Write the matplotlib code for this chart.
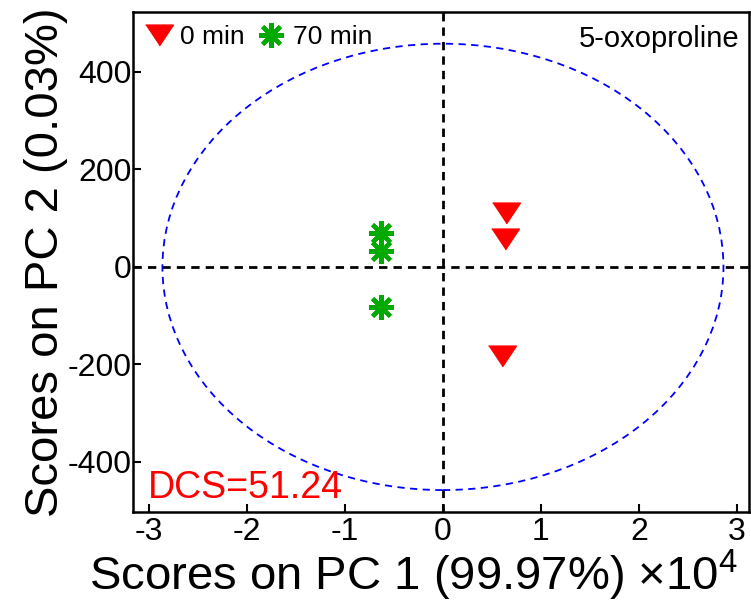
import numpy as np
import matplotlib
matplotlib.use('Agg')
import matplotlib.pyplot as plt
from matplotlib.patches import Ellipse

plt.rcParams['font.family'] = ['Liberation Sans', 'DejaVu Sans']
plt.rcParams['mathtext.fontset'] = 'custom'
plt.rcParams['mathtext.rm'] = 'Liberation Sans'
plt.rcParams['axes.unicode_minus'] = False

# PCA scores (PC1 in units of 1e4)
pc1_0min = [0.643, 0.630, 0.605]
pc2_0min = [111, 57, -183]
pc1_70min = [-0.633, -0.633, -0.628]
pc2_70min = [70, 33, -82]

# confidence ellipse semi-axes
ell_a = 2.862
ell_b = 458

fig = plt.figure(figsize=(7.51, 6.02), dpi=100)
ax = fig.add_axes([0.177, 0.1495, 0.820, 0.8305])

tri = [(-1, 0.75), (1, 0.75), (0, -0.75)]
green = '#00aa00'

ax.axhline(0, color='black', ls=(0, (3, 2.2)), lw=2, zorder=1)
ax.axvline(0, color='black', ls=(0, (3, 2.2)), lw=2, zorder=1)
ax.add_patch(Ellipse((0, 0), 2 * ell_a, 2 * ell_b, fill=False,
                     edgecolor='blue', ls=(0, (4, 3)), lw=1.3, zorder=1))

ax.plot(pc1_0min, pc2_0min, ls='none', marker=tri, ms=20, color='red',
        mec='red', label='0 min', zorder=3)
ax.plot(pc1_70min, pc2_70min, ls='none', marker=(8, 2, 0), ms=18,
        mew=3, color=green, mec=green, label='70 min', zorder=3)

ax.set_xlim(-3.163, 3.12)
ax.set_ylim(-503, 523)
ax.set_xticks([-3, -2, -1, 0, 1, 2, 3])
ax.set_yticks([-400, -200, 0, 200, 400])

ax.tick_params(direction='in', length=6, width=1.5, labelsize=23,
               top=False, right=False)
ax.tick_params(axis='y', pad=1)
for s in ax.spines.values():
    s.set_linewidth(1.8)

ax.set_xlabel(r'Scores on PC 1 (99.97%) $\times$10$^4$', fontsize=34)
ax.xaxis.set_label_coords(0.456, -0.072)
ax.set_ylabel('Scores on PC 2 (0.03%)', fontsize=34, labelpad=0)

ax.legend(loc='upper left', ncol=2, frameon=False, fontsize=19,
          handletextpad=0.3, columnspacing=0.5, borderaxespad=0.3,
          borderpad=0.2, handlelength=1.0)
ax.text(0.985, 0.975, '5-oxoproline', transform=ax.transAxes, ha='right',
        va='top', fontsize=21)
ax.text(0.025, 0.012, 'DCS=51.24', transform=ax.transAxes, ha='left',
        va='bottom', fontsize=27, color='red')

fig.savefig('out.png', dpi=100)
